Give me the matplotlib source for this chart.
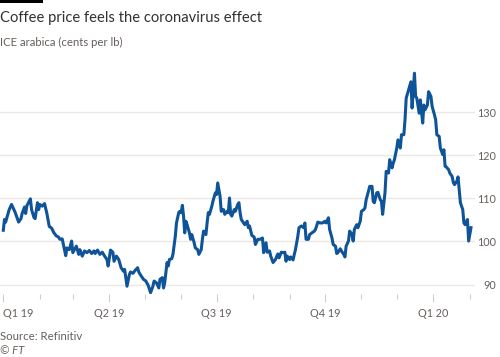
import matplotlib
matplotlib.use("Agg")
import matplotlib.pyplot as plt
import matplotlib.dates as mdates
from matplotlib.patches import Rectangle
import pandas as pd

plt.rcParams['font.family'] = ['Lato', 'DejaVu Sans']

# Days since 2019-01-01 and ICE arabica price (cents per lb)
day_offset = [
    0, 1, 2, 3, 5, 7, 8, 10, 13, 15, 16, 18, 19, 20, 23, 24, 26, 27, 29, 30,
    31, 33, 35, 37, 39, 41, 43, 45, 47, 48, 50, 51, 53, 54, 56, 58, 59, 62, 64, 65,
    67, 69, 71, 73, 75, 77, 78, 80, 82, 84, 86, 88, 89, 91, 93, 94, 96, 98, 100, 102,
    103, 105, 107, 108, 110, 112, 114, 115, 117, 119, 121, 123, 125, 127, 128, 130, 132, 133, 135, 136,
    137, 139, 140, 141, 143, 144, 146, 147, 149, 150, 151, 152, 153, 154, 155, 156, 158, 159, 160, 162,
    163, 165, 166, 168, 169, 170, 172, 173, 174, 175, 177, 178, 180, 181, 182, 184, 185, 187, 188, 190,
    191, 192, 193, 194, 196, 197, 199, 200, 201, 202, 204, 205, 207, 208, 209, 211, 213, 214, 216, 218,
    220, 221, 223, 224, 226, 227, 229, 231, 233, 234, 236, 238, 239, 240, 241, 243, 244, 246, 247, 248,
    250, 251, 253, 255, 256, 257, 259, 260, 262, 264, 265, 267, 269, 271, 273, 274, 276, 277, 279, 280,
    282, 283, 284, 286, 287, 289, 290, 291, 293, 294, 296, 297, 298, 300, 301, 303, 304, 306, 307, 308,
    310, 311, 313, 314, 315, 317, 318, 320, 321, 322, 324, 325, 327, 328, 330, 331, 332, 334, 335, 337,
    338, 340, 341, 342, 344, 346, 347, 349, 350, 351, 353, 354, 356, 357, 358, 360, 361, 363, 364, 366,
    367, 368, 370, 371, 373, 374, 375, 376, 378, 379, 381, 382, 383, 385, 386, 387, 388, 390, 391, 392,
    394, 395, 397,
]
price = [
    102.6, 105.1, 104.5, 105.5, 107.4, 108.6, 108.0, 106.8, 104.5, 105.3, 106.5, 108.0, 106.5, 108.3, 109.9, 107.4, 105.6, 105.3, 109.0, 107.4,
    108.6, 108.2, 108.8, 106.5, 103.5, 103.1, 102.0, 101.3, 101.0, 100.5, 100.6, 99.3, 96.7, 98.5, 98.1, 100.1, 97.4, 98.9, 97.0, 98.1,
    96.6, 97.8, 97.4, 97.9, 97.2, 97.8, 97.2, 98.0, 97.0, 97.5, 96.6, 95.8, 94.3, 98.0, 97.5, 95.4, 96.6, 95.8, 93.9, 93.1,
    93.5, 89.6, 92.3, 92.9, 92.6, 93.3, 93.9, 92.9, 92.0, 91.2, 90.8, 89.8, 88.1, 89.6, 90.8, 90.4, 89.2, 91.2, 91.6, 89.2,
    90.4, 95.1, 94.3, 95.8, 96.0, 97.0, 101.2, 104.3, 106.8, 107.0, 106.7, 108.4, 105.9, 102.0, 104.7, 103.9, 102.0, 100.5, 101.6, 99.7,
    98.5, 98.1, 97.0, 98.1, 100.5, 102.4, 101.6, 104.3, 106.7, 106.3, 108.2, 109.4, 111.3, 110.9, 113.6, 110.5, 107.0, 107.4, 106.3, 107.0,
    106.7, 110.1, 106.3, 105.9, 107.4, 107.0, 108.6, 109.0, 106.7, 105.1, 104.3, 103.9, 104.7, 103.2, 103.6, 101.4, 101.0, 99.3, 100.5, 100.5,
    100.8, 97.4, 99.7, 97.5, 97.8, 96.6, 95.1, 95.8, 97.1, 96.2, 97.5, 97.4, 97.5, 95.4, 96.6, 95.8, 96.4, 95.7, 97.0, 98.1,
    101.2, 103.2, 103.6, 103.2, 104.3, 100.5, 100.5, 101.6, 102.0, 102.4, 102.8, 104.5, 104.3, 104.3, 104.7, 104.3, 105.5, 102.8, 100.8, 99.3,
    98.9, 97.2, 97.4, 98.3, 97.8, 97.0, 96.4, 98.9, 100.1, 102.4, 101.6, 100.1, 102.8, 103.9, 103.2, 104.7, 107.0, 107.4, 107.8, 109.7,
    111.7, 112.8, 112.8, 109.3, 109.0, 111.3, 111.4, 109.7, 109.3, 106.3, 111.3, 116.3, 115.9, 119.0, 117.1, 118.2, 119.0, 121.7, 123.6, 121.7,
    124.8, 124.8, 128.3, 133.3, 135.2, 137.1, 131.0, 139.1, 133.7, 133.3, 129.8, 132.9, 127.5, 131.7, 130.6, 131.7, 134.8, 133.7, 131.4, 129.4,
    128.3, 124.8, 124.4, 121.7, 120.2, 121.3, 117.5, 117.3, 116.7, 115.9, 115.1, 113.7, 113.2, 114.0, 115.0, 112.0, 109.0, 107.4, 104.3, 103.9,
    105.1, 100.1, 103.2,
]
y_ticks = [90, 100, 110, 120, 130]
quarter_starts = ['2019-01-01', '2019-04-01', '2019-07-01', '2019-10-01', '2020-01-01']
quarter_labels = ['Q1 19', 'Q2 19', 'Q3 19', 'Q4 19', 'Q1 20']

title = 'Coffee price feels the coronavirus effect'
subtitle = 'ICE arabica (cents per lb)'
source = 'Source: Refinitiv'
credit = '© FT'

W, H = 500, 357
fig = plt.figure(figsize=(W / 100, H / 100), dpi=100)
fig.patch.set_facecolor('white')

ax = fig.add_axes([0.0, 1 - 294.4 / H, 475 / W, (294.4 - 65) / H])
ax.set_facecolor('white')

start = pd.Timestamp('2019-01-01')
dates = start + pd.to_timedelta(day_offset, unit='D')
ax.plot(dates, price, color='#0f5499', lw=2.2, solid_joinstyle='round', zorder=3)

ax.set_xlim(start - pd.Timedelta(days=2.8), start + pd.Timedelta(days=400.4))
ax.set_ylim(87.7, 141)

for s in ax.spines.values():
    s.set_visible(False)

ax.set_yticks(y_ticks)
ax.yaxis.tick_right()
ax.grid(axis='y', color='#ece7e2', lw=1.0, zorder=0)
ax.tick_params(axis='y', length=0, pad=15.3, labelsize=7.8, labelcolor='#66605c')
for lab in ax.get_yticklabels():
    lab.set_horizontalalignment('right')

ax.set_xticks(pd.to_datetime(quarter_starts))
ax.set_xticklabels(quarter_labels)
ax.xaxis.set_minor_locator(mdates.MonthLocator())
ax.tick_params(axis='x', which='major', length=6, width=0.8, color='#d4ccc4',
               pad=3.5, labelsize=7.8, labelcolor='#66605c')
ax.tick_params(axis='x', which='minor', length=3.8, width=0.8, color='#d4ccc4')
ax.get_xticklabels()[0].set_horizontalalignment('left')

fig.add_artist(Rectangle((0, 1 - 3 / H), 43 / W, 3 / H, transform=fig.transFigure,
                         color='black', lw=0))
fig.text(0.0, 1 - 18 / H, title, fontsize=10.6, color='#33302e', va='center', ha='left')
fig.text(0.0, 1 - 42 / H, subtitle, fontsize=8.2, color='#66605c', va='center', ha='left')
fig.text(0.0, 1 - 337 / H, source, fontsize=8.2, color='#66605c', va='center', ha='left')
fig.text(0.0, 1 - 350.5 / H, credit, fontsize=8.2, color='#66605c', va='center', ha='left',
         style='italic')

fig.savefig('out.png', dpi=100)
